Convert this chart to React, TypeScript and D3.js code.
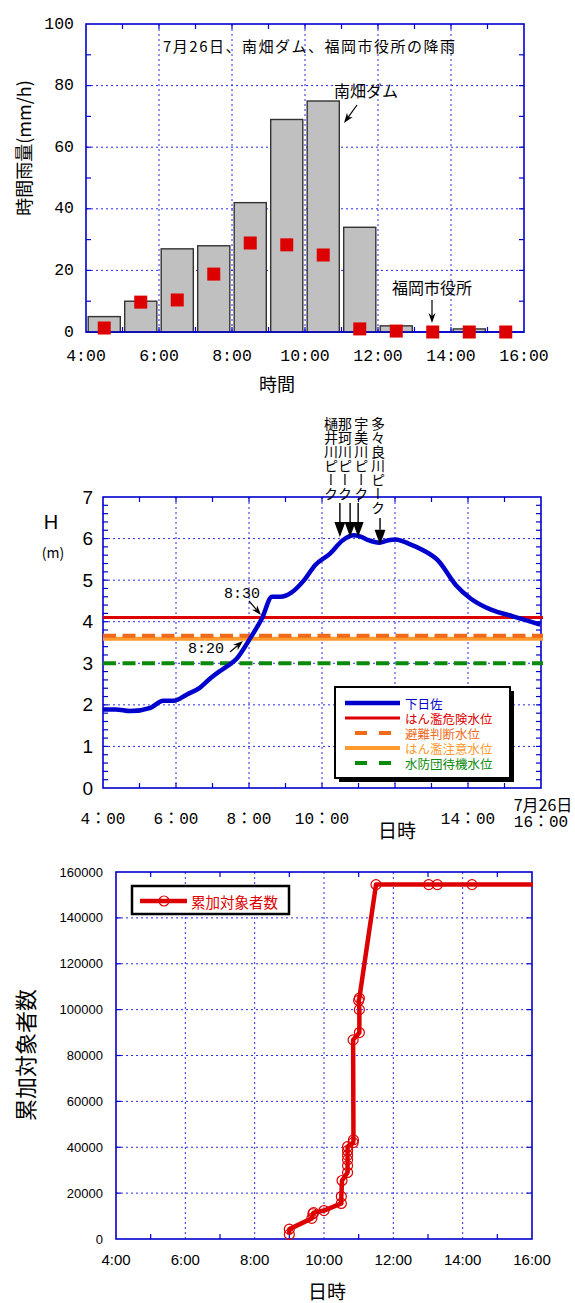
import React from "react";
import * as d3 from "d3";

// ---- chart 1: hourly rainfall (mm/h), slot start hour ----
const rainSlots = [4, 5, 6, 7, 8, 9, 10, 11, 12, 13, 14, 15];
const damRain = [5, 10, 27, 28, 42, 69, 75, 34, 2, 0, 1, 0];
const cityRain = [1.3, 9.7, 10.4, 18.8, 28.9, 28.3, 25, 1, 0.3, 0, 0, 0];
const rainYTicks = [0, 20, 40, 60, 80, 100];
const hourTicks = [4, 6, 8, 10, 12, 14, 16];

// ---- chart 2: water level at 下日佐 ----
const levelTime = [4.0, 4.35, 4.75, 5.3, 5.65, 5.95, 6.3, 6.65, 6.96, 7.2, 7.4, 7.66, 8.01, 8.36, 8.63, 8.86, 9.16, 9.51, 9.81, 10.22, 10.57, 10.87, 11.02, 11.27, 11.57, 11.82, 12.02, 12.37, 12.77, 13.17, 13.67, 14.07, 14.63, 15.23, 15.98];
const levelH = [1.89, 1.89, 1.85, 1.93, 2.1, 2.1, 2.25, 2.41, 2.65, 2.81, 2.93, 3.11, 3.57, 4.09, 4.6, 4.6, 4.7, 5.0, 5.36, 5.64, 5.96, 6.08, 6.06, 5.96, 5.9, 5.96, 5.98, 5.88, 5.72, 5.48, 4.88, 4.56, 4.29, 4.13, 3.93];
const thresholdNames = ["はん濫危険水位", "避難判断水位", "はん濫注意水位", "水防団待機水位"];
const thresholdLevels = [4.1, 3.66, 3.59, 3.0];
const peakNames = ["樋井川ピーク", "那珂川ピーク", "宇美川ピーク", "多々良川ピーク"];
const peakTimes = [10.49, 10.77, 10.99, 11.59];
const peakLevels = [6.04, 6.04, 6.04, 5.85];
const levelYTicks = [0, 1, 2, 3, 4, 5, 6, 7];
const levelXTicks = [4, 6, 8, 10, 14, 16];

// ---- chart 3: cumulative number of people covered ----
const cumTime = [9.0, 9.0, 9.65, 9.68, 9.7, 10.0, 10.5, 10.5, 10.52, 10.68, 10.68, 10.68, 10.68, 10.68, 10.68, 10.84, 10.85, 10.84, 11.02, 11.02, 11.0, 11.02, 11.5, 13.02, 13.27, 14.27];
const cumCount = [2000, 4300, 9000, 11000, 11500, 12400, 15500, 18500, 25500, 29000, 32000, 34500, 36500, 38500, 40300, 42000, 43200, 86800, 90000, 100000, 104000, 105000, 154500, 154500, 154500, 154500];
const cumYTicks = [0, 20000, 40000, 60000, 80000, 100000, 120000, 140000, 160000];

const BLUE = "#0000cc";
const GRID = "#2b2bf0";
const RED = "#dd0000";
const JP = "'Noto Sans CJK JP', sans-serif";
const MONO = "'Liberation Mono', 'Noto Sans CJK JP', monospace";
const SANS = "'Liberation Sans', Arial, sans-serif";

function Arrow({ x1, y1, x2, y2, len = 10, half = 3.5, notch = 0.7, w = 1.2 }: any) {
  const a = Math.atan2(y2 - y1, x2 - x1);
  const ux = Math.cos(a), uy = Math.sin(a);
  const nx = -uy, ny = ux;
  const bx = x2 - ux * len, by = y2 - uy * len;
  const mx = x2 - ux * len * notch, my = y2 - uy * len * notch;
  return (
    <g>
      <line x1={x1} y1={y1} x2={mx} y2={my} stroke="#000" strokeWidth={w} />
      <path d={`M${x2},${y2}L${bx + nx * half},${by + ny * half}L${mx},${my}L${bx - nx * half},${by - ny * half}Z`} fill="#000" />
    </g>
  );
}

function Frame({ L, R, T, B, xs, ys, xMinor, yMinor }: any) {
  return (
    <g>
      {xs.map((v: number, i: number) => (
        <line key={"gx" + i} x1={v} x2={v} y1={T} y2={B} stroke={GRID} strokeWidth={1} strokeDasharray="2,3" />
      ))}
      {ys.map((v: number, i: number) => (
        <line key={"gy" + i} x1={L} x2={R} y1={v} y2={v} stroke={GRID} strokeWidth={1} strokeDasharray="2,3" />
      ))}
      {xMinor.map((v: number, i: number) => (
        <g key={"tx" + i}>
          <line x1={v} x2={v} y1={T} y2={T + 5} stroke={BLUE} strokeWidth={1.2} />
          <line x1={v} x2={v} y1={B} y2={B - 5} stroke={BLUE} strokeWidth={1.2} />
        </g>
      ))}
      {yMinor.map((v: number, i: number) => (
        <g key={"ty" + i}>
          <line x1={L} x2={L + 5} y1={v} y2={v} stroke={BLUE} strokeWidth={1.2} />
          <line x1={R} x2={R - 5} y1={v} y2={v} stroke={BLUE} strokeWidth={1.2} />
        </g>
      ))}
      <rect x={L} y={T} width={R - L} height={B - T} fill="none" stroke={BLUE} strokeWidth={1.6} />
    </g>
  );
}

function RainChart() {
  const L = 86, R = 524, T = 24, B = 332;
  const x = d3.scaleLinear().domain([4, 16]).range([L, R]);
  const band = d3.scaleBand<number>().domain(rainSlots).range([L, R]).paddingInner(0.12).paddingOuter(0.06);
  const y = d3.scaleLinear().domain([0, 100]).range([B, T]);
  const sq = 13;
  return (
    <g>
      <Frame L={L} R={R} T={T} B={B}
        xs={[6, 8, 10, 12, 14].map(x)} ys={[20, 40, 60, 80].map(y)}
        xMinor={d3.range(5, 16, 1).map(x)} yMinor={d3.range(10, 100, 10).map(y)} />
      {rainSlots.map((h, i) => damRain[i] > 0 && (
        <rect key={i} x={band(h)} y={y(damRain[i])} width={band.bandwidth()} height={y(0) - y(damRain[i])}
          fill="#c0c0c0" stroke="#333" strokeWidth={1.4} />
      ))}
      <line x1={L} x2={R} y1={B} y2={B} stroke={BLUE} strokeWidth={1.6} />
      {rainSlots.map((h, i) => (
        <rect key={"s" + i} x={band(h)! + band.bandwidth() / 2 - sq / 2} y={y(cityRain[i]) - sq / 2}
          width={sq} height={sq} fill={RED} />
      ))}
      {rainYTicks.map((v) => (
        <text key={v} x={L - 12} y={y(v)} textAnchor="end" dominantBaseline="central" fontFamily={MONO} fontSize={16.5}>{v}</text>
      ))}
      {hourTicks.map((h) => (
        <text key={h} x={x(h)} y={356} textAnchor="middle" dominantBaseline="central" fontFamily={MONO} fontSize={16.5}>{`${h}:00`}</text>
      ))}
      <text x={163} y={45} dominantBaseline="central" fontFamily={JP} fontSize={15} textLength={292} lengthAdjust="spacing">7月26日、南畑ダム、福岡市役所の降雨</text>
      <text x={334} y={90} dominantBaseline="central" fontFamily={JP} fontSize={16}>南畑ダム</text>
      <Arrow x1={357} y1={105} x2={344} y2={123} />
      <text x={392} y={287} dominantBaseline="central" fontFamily={JP} fontSize={16}>福岡市役所</text>
      <Arrow x1={432} y1={300} x2={432} y2={323} />
      <text transform="translate(23,148) rotate(-90)" textAnchor="middle" dominantBaseline="central" fontFamily={JP} fontSize={18}>時間雨量(mm/h)</text>
      <text x={277} y={383} textAnchor="middle" dominantBaseline="central" fontFamily={JP} fontSize={18}>時間</text>
    </g>
  );
}

function LevelChart() {
  const L = 103, R = 541, T = 497, B = 788;
  const x = d3.scaleLinear().domain([4, 16]).range([L, R]);
  const y = d3.scaleLinear().domain([0, 7]).range([B, T]);
  const line = d3.line<number>().x((d, i) => x(levelTime[i])).y((d) => y(d)).curve(d3.curveMonotoneX);
  const thrStyle = [
    { c: RED, w: 3, dash: undefined, tc: RED },
    { c: "#f06a1a", w: 4, dash: "13,6.5", tc: "#f06a1a" },
    { c: "#ff9a2e", w: 4, dash: undefined, tc: "#ff9a2e" },
    { c: "#0a8a0a", w: 4, dash: "13,6.5", tc: "#0a8a0a" },
  ];
  const labelOffsets = [-9, -5, 3, -2];
  const shaftTop = [503, 503, 503, 518];
  const lx = 335, ly = 687, lw = 175, lh = 91;
  const legendItems = [{ name: "下日佐", c: BLUE, w: 4.5, dash: undefined, tc: BLUE }, ...thresholdNames.map((n, i) => ({ name: n, ...thrStyle[i] }))];
  return (
    <g>
      <Frame L={L} R={R} T={T} B={B}
        xs={[6, 8, 10, 12, 14].map(x)} ys={[1, 2, 3, 4, 5, 6].map(y)}
        xMinor={d3.range(5, 16, 1).map(x)} yMinor={d3.range(0.2, 7, 0.2).map(y)} />
      {[3, 2, 1, 0].map((i) => (
        <line key={i} x1={L} x2={R + 2} y1={y(thresholdLevels[i])} y2={y(thresholdLevels[i])}
          stroke={thrStyle[i].c} strokeWidth={thrStyle[i].w} strokeDasharray={thrStyle[i].dash} />
      ))}
      <path d={line(levelH) || ""} fill="none" stroke={BLUE} strokeWidth={4.5} strokeLinejoin="round" />
      {levelYTicks.map((v) => (
        <text key={v} x={L - 10} y={y(v)} textAnchor="end" dominantBaseline="central" fontFamily={SANS} fontSize={19}>{v}</text>
      ))}
      {levelXTicks.map((h) => (
        <text key={h} x={x(h)} y={h === 16 ? 823 : 820} textAnchor="middle" dominantBaseline="central" fontFamily={MONO} fontSize={16}>{`${h}：00`}</text>
      ))}
      <text x={x(16) + 2} y={804} textAnchor="middle" dominantBaseline="central" fontFamily={JP} fontSize={16}>7月26日</text>
      <text x={397} y={829} textAnchor="middle" dominantBaseline="central" fontFamily={JP} fontSize={19}>日時</text>
      <text x={51} y={522} textAnchor="middle" dominantBaseline="central" fontFamily={SANS} fontSize={20}>H</text>
      <text x={53} y={552} textAnchor="middle" dominantBaseline="central" fontFamily={JP} fontSize={14}>(m)</text>
      <text x={242} y={594} textAnchor="middle" dominantBaseline="central" fontFamily={MONO} fontSize={15}>8:30</text>
      <Arrow x1={249} y1={601} x2={261} y2={615} />
      <text x={206} y={649} textAnchor="middle" dominantBaseline="central" fontFamily={MONO} fontSize={15}>8:20</text>
      <Arrow x1={230} y1={652} x2={243} y2={641} />
      {peakNames.map((n, i) => (
        <g key={n}>
          <text x={x(peakTimes[i]) + labelOffsets[i]} y={417} fontFamily={JP} fontSize={14}
            style={{ writingMode: "vertical-rl" }}>{n}</text>
          <Arrow x1={x(peakTimes[i])} y1={shaftTop[i]} x2={x(peakTimes[i])} y2={y(peakLevels[i])} len={15} half={5.5} notch={1} w={1.4} />
        </g>
      ))}
      <rect x={lx + 4} y={ly + 4} width={lw} height={lh} fill="#000" />
      <rect x={lx} y={ly} width={lw} height={lh} fill="#fff" stroke="#000" strokeWidth={2} />
      {legendItems.map((it, i) => {
        const yy = ly + 16 + i * 15;
        return (
          <g key={it.name}>
            <line x1={it.dash ? 355 : 345} x2={it.dash ? 394 : 400} y1={yy} y2={yy} stroke={it.c} strokeWidth={it.w} strokeDasharray={it.dash ? "12,12" : undefined} />
            <text x={405} y={yy} dominantBaseline="central" fontFamily={JP} fontSize={12.5} fill={it.tc}>{it.name}</text>
          </g>
        );
      })}
    </g>
  );
}

function CumChart() {
  const L = 116, R = 532, T = 872, B = 1239;
  const x = d3.scaleLinear().domain([4, 16]).range([L, R]);
  const y = d3.scaleLinear().domain([0, 160000]).range([B, T]);
  const pts: [number, number][] = cumTime.map((t, i) => [x(t), y(cumCount[i])]);
  pts.push([x(16) + 1, y(cumCount[cumCount.length - 1])]);
  const line = d3.line();
  return (
    <g>
      <Frame L={L} R={R} T={T} B={B}
        xs={[6, 8, 10, 12, 14].map(x)} ys={[20000, 40000, 60000, 80000, 100000, 120000, 140000].map(y)}
        xMinor={d3.range(5, 16, 2).map(x)} yMinor={d3.range(20000, 160000, 20000).map(y)} />
      <path d={line(pts) || ""} fill="none" stroke={RED} strokeWidth={4.5} strokeLinejoin="round" />
      {cumTime.map((t, i) => (
        <circle key={i} cx={x(t)} cy={y(cumCount[i])} r={5} fill="none" stroke={RED} strokeWidth={1.2} />
      ))}
      {cumYTicks.map((v) => (
        <text key={v} x={103} y={y(v)} textAnchor="end" dominantBaseline="central" fontFamily={SANS} fontSize={13}>{v}</text>
      ))}
      {hourTicks.map((h) => (
        <text key={h} x={x(h)} y={1259} textAnchor="middle" dominantBaseline="central" fontFamily={SANS} fontSize={15}>{`${h}:00`}</text>
      ))}
      <rect x={132} y={886} width={157} height={28} fill="#fff" stroke="#000" strokeWidth={2.5} />
      <line x1={140} x2={187} y1={901} y2={901} stroke={RED} strokeWidth={4.5} />
      <circle cx={164} cy={901} r={5} fill="none" stroke={RED} strokeWidth={1.2} />
      <text x={191} y={901} dominantBaseline="central" fontFamily={JP} fontSize={14.5} fill={RED}>累加対象者数</text>
      <text transform="translate(24,1055) rotate(-90)" textAnchor="middle" dominantBaseline="central" fontFamily={JP} fontSize={22}>累加対象者数</text>
      <text x={327} y={1290} textAnchor="middle" dominantBaseline="central" fontFamily={JP} fontSize={19}>日時</text>
    </g>
  );
}

export default function App() {
  return (
    <div style={{ position: "absolute", left: 0, top: 0 }}>
      <svg width={575} height={1303} style={{ display: "block", background: "#fff" }}>
        <RainChart />
        <LevelChart />
        <CumChart />
      </svg>
    </div>
  );
}
